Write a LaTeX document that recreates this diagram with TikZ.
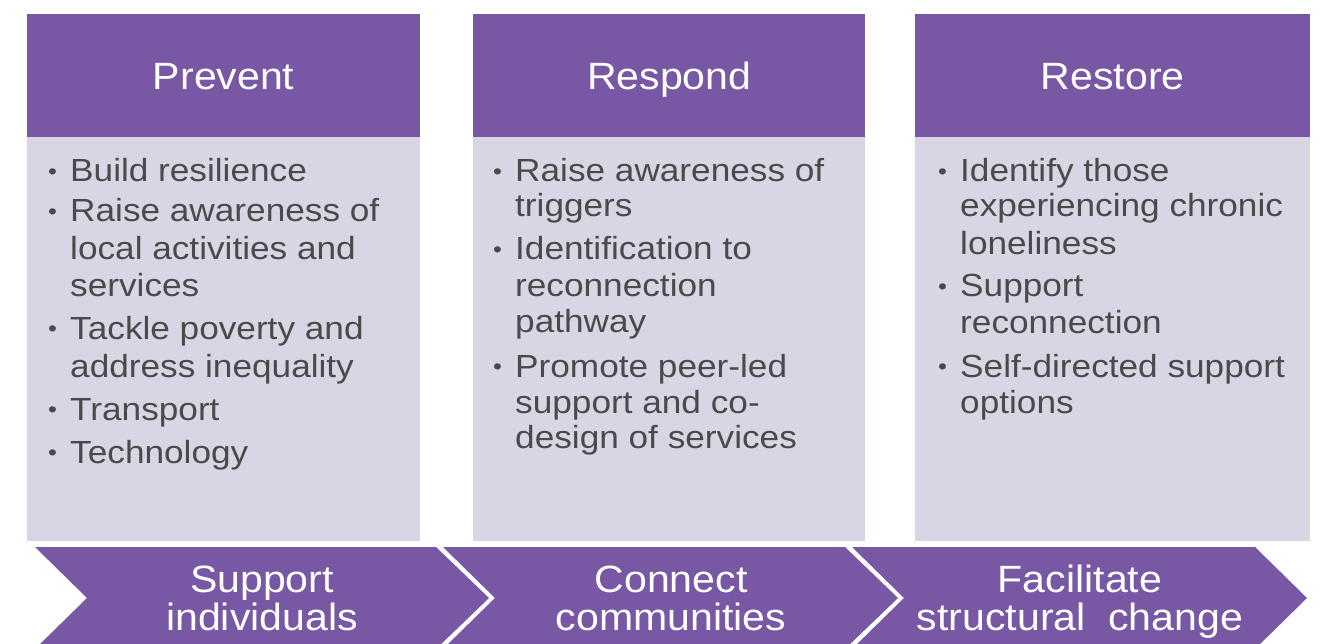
\documentclass[tikz,border=0pt]{standalone}
\usepackage{fontspec}
\setmainfont{Liberation Sans}
\newfontfamily\bodyfont[FakeStretch=1.1]{Liberation Sans}
\newfontfamily\headfont[FakeStretch=1.08]{Liberation Sans}
\definecolor{purp}{HTML}{7858A4}
\definecolor{lav}{HTML}{D9D5E5}
\definecolor{txtgray}{HTML}{4A4A4A}
\newcommand{\blt}{\makebox[22pt][l]{\raisebox{2.5pt}{\fontsize{23}{23}\selectfont •}}}
\begin{document}
\begin{tikzpicture}[x=1pt,y=-1pt,
  hdr/.style={fill=purp, draw=none, text=white, font=\headfont\fontsize{38}{38}\selectfont,
    minimum height=123pt, inner sep=0pt, anchor=north west, text height=27pt, text depth=0pt},
  bodybox/.style={fill=lav, draw=none, minimum height=404pt, inner sep=0pt, anchor=north west},
  item/.style={anchor=base west, inner sep=0pt, text=txtgray, font=\bodyfont\fontsize{32}{37}\selectfont},
  chev/.style={fill=purp},
  chevtext/.style={anchor=base, inner sep=0pt, text=white, font=\headfont\fontsize{38}{38}\selectfont}]
\useasboundingbox (0,0) rectangle (1325,644);
\clip (0,0) rectangle (1325,644);
\fill[white] (0,0) rectangle (1325,644);

% headers
\node[hdr, minimum width=393pt] (h1) at (27,14) {Prevent};
\node[hdr, minimum width=392pt] (h2) at (473,14) {Respond};
\node[hdr, minimum width=395pt] (h3) at (915,14) {Restore};

% bodies
\node[bodybox, minimum width=393pt] (b1) at (27,137) {};
\node[bodybox, minimum width=392pt] (b2) at (473,137) {};
\node[bodybox, minimum width=395pt] (b3) at (915,137) {};

% column 1
\node[item] (c1a) at (48,182) {\blt Build resilience};
\node[item] (c1b) at (48,222) {\blt Raise awareness of};
\node[item] (c1c) at (70,260) {local activities and};
\node[item] (c1d) at (70,297) {services};
\node[item] (c1e) at (48,339) {\blt Tackle poverty and};
\node[item] (c1f) at (70,377) {address inequality};
\node[item] (c1g) at (48,420) {\blt Transport};
\node[item] (c1h) at (48,463) {\blt Technology};

% column 2
\node[item] (c2a) at (493,182) {\blt Raise awareness of};
\node[item] (c2b) at (515,217) {triggers};
\node[item] (c2c) at (493,260) {\blt Identification to};
\node[item] (c2d) at (515,297) {reconnection};
\node[item] (c2e) at (515,332) {pathway};
\node[item] (c2f) at (493,377) {\blt Promote peer-led};
\node[item] (c2g) at (515,413) {support and co-};
\node[item] (c2h) at (515,448) {design of services};

% column 3
\node[item] (c3a) at (938,182) {\blt Identify those};
\node[item] (c3b) at (960,217) {experiencing chronic};
\node[item] (c3c) at (960,255) {loneliness};
\node[item] (c3d) at (938,297) {\blt Support};
\node[item] (c3e) at (960,333) {reconnection};
\node[item] (c3f) at (938,377) {\blt Self-directed support};
\node[item] (c3g) at (960,413) {options};

% chevrons
\fill[chev] (35,547) -- (436,547) -- (489,598) -- (436,649) -- (35,649) -- (87,598) -- cycle;
\fill[chev] (443,547) -- (845,547) -- (898,598) -- (845,649) -- (443,649) -- (495,598) -- cycle;
\fill[chev] (852,547) -- (1255,547) -- (1307,598) -- (1255,649) -- (852,649) -- (904,598) -- cycle;

\node[chevtext] (s1a) at (262,592) {Support};
\node[chevtext] (s1b) at (262,630) {individuals};
\node[chevtext] (s2a) at (671,592) {Connect};
\node[chevtext] (s2b) at (671,630) {communities};
\node[chevtext] (s3a) at (1080,592) {Facilitate};
\node[chevtext] (s3b) at (1080,630) {structural~~change};
\end{tikzpicture}
\end{document}
